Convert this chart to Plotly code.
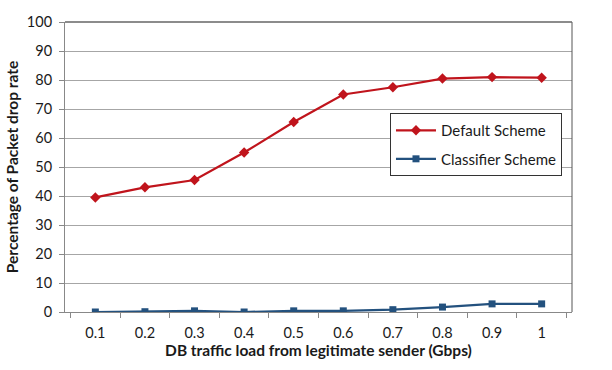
import plotly.graph_objects as go

categories = ["0.1", "0.2", "0.3", "0.4", "0.5", "0.6", "0.7", "0.8", "0.9", "1"]
default_scheme = [39.5, 43, 45.5, 55, 65.5, 75, 77.5, 80.5, 81, 80.8]
classifier_scheme = [0, 0.1, 0.4, 0, 0.4, 0.4, 0.8, 1.7, 2.8, 2.8]
y_ticks = [0, 10, 20, 30, 40, 50, 60, 70, 80, 90, 100]

FONT = "Lato, Open Sans, sans-serif"

fig = go.Figure()
fig.add_trace(go.Scatter(
    x=categories, y=default_scheme, name="Default Scheme", mode="lines+markers",
    line=dict(color="#C0141C", width=2.2),
    marker=dict(symbol="diamond", size=8, color="#C0141C"),
    legendgroup="a",
))
fig.add_trace(go.Scatter(
    x=categories, y=classifier_scheme, name="Classifier Scheme", mode="lines+markers",
    line=dict(color="#23517E", width=2.2),
    marker=dict(symbol="square", size=7, color="#23517E"),
    legendgroup="b",
))

fig.update_layout(
    width=612, height=370,
    margin=dict(l=57, r=40, t=22, b=58),
    paper_bgcolor="white", plot_bgcolor="white",
    font=dict(family=FONT, size=13, color="#1a1a1a"),
    showlegend=True,
    legend=dict(
        x=0.641, y=0.686, xanchor="left", yanchor="top",
        bordercolor="#333333", borderwidth=1, bgcolor="white",
        font=dict(family=FONT, size=15, color="#1a1a1a"),
        tracegroupgap=6, itemwidth=40,
    ),
)
fig.update_xaxes(
    type="category",
    tickvals=categories, ticktext=categories,
    showline=True, linecolor="#888888", linewidth=1,
    ticks="outside", tickson="boundaries", ticklen=5, tickcolor="#888888",
    ticklabelstandoff=8,
    showgrid=False, mirror=False,
    title=dict(text="<b>DB traffic load from legitimate sender (Gbps)</b>",
               font=dict(family=FONT, size=15.5), standoff=4),
    tickfont=dict(family=FONT, size=14.5),
)
fig.update_yaxes(
    range=[0, 100], tickvals=y_ticks,
    showline=True, linecolor="#888888", linewidth=1,
    ticks="outside", ticklen=5, tickcolor="#888888",
    ticklabelstandoff=4,
    showgrid=True, gridcolor="#a6a6a6", gridwidth=1,
    zeroline=False,
    title=dict(text="<b>Percentage of Packet drop rate</b>",
               font=dict(family=FONT, size=15.5), standoff=4),
    tickfont=dict(family=FONT, size=14.5),
)
# right and top border of plot area
fig.add_shape(type="line", xref="paper", yref="paper", x0=1, x1=1, y0=0, y1=1,
              line=dict(color="#555555", width=1))
fig.add_shape(type="line", xref="paper", yref="paper", x0=0, x1=1, y0=1, y1=1,
              line=dict(color="#666666", width=1.5))

fig.write_html("out.html")
